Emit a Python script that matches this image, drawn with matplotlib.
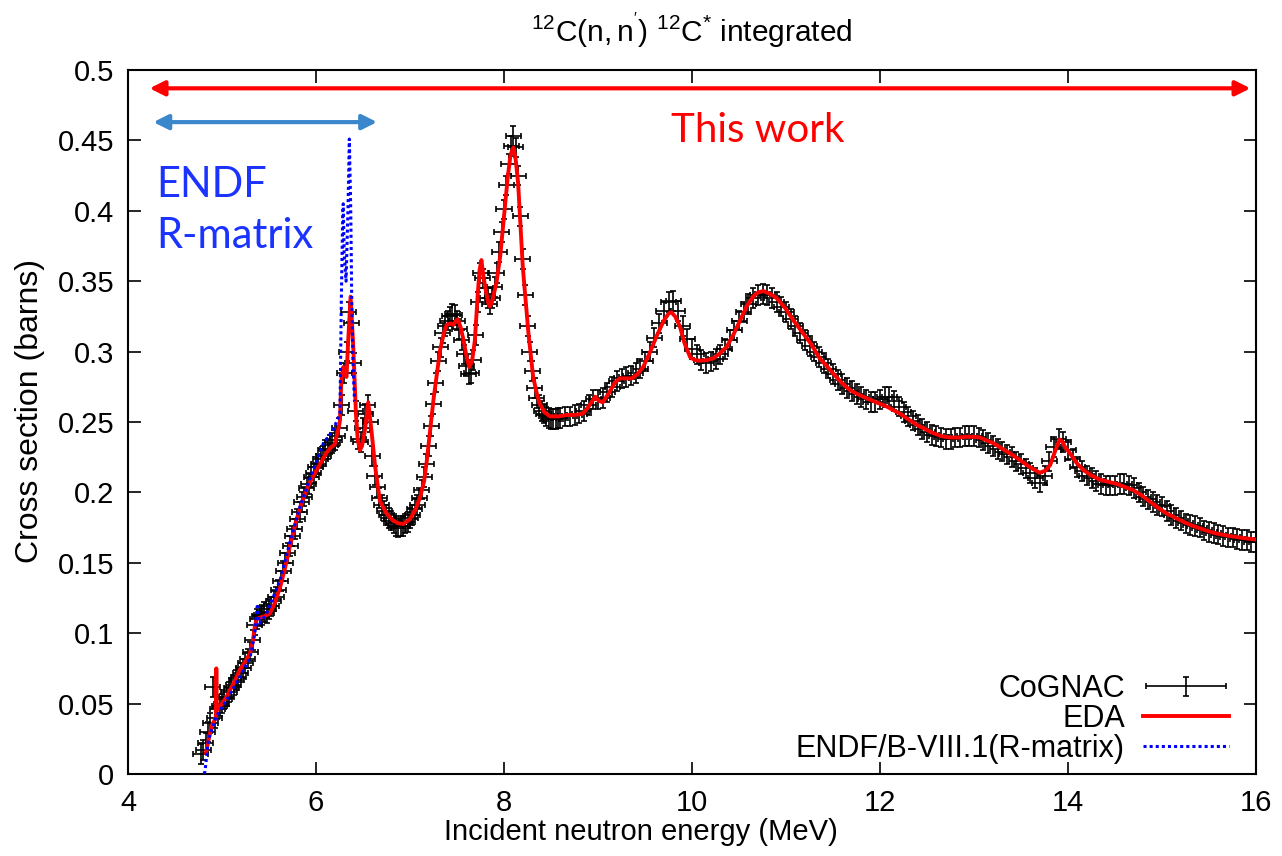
import numpy as np
import matplotlib
matplotlib.use("Agg")
import matplotlib.pyplot as plt
from matplotlib.ticker import FuncFormatter, MultipleLocator
from matplotlib.container import ErrorbarContainer
from matplotlib.legend_handler import HandlerErrorbar

plt.rcParams['font.family'] = ['Liberation Sans', 'DejaVu Sans']
plt.rcParams['mathtext.fontset'] = 'custom'
plt.rcParams['mathtext.rm'] = 'Liberation Sans'
plt.rcParams['mathtext.it'] = 'Liberation Sans:italic'

# CoGNAC data (MeV, barns), fine grid below 8.6 MeV
cog_e_lo = [4.775, 4.800, 4.825, 4.850, 4.875, 4.900, 4.925, 4.950, 4.975, 5.000,
            5.025, 5.050, 5.075, 5.100, 5.125, 5.150, 5.175, 5.200, 5.225, 5.250,
            5.275, 5.300, 5.325, 5.350, 5.375, 5.400, 5.425, 5.450, 5.475, 5.500,
            5.525, 5.550, 5.575, 5.600, 5.625, 5.650, 5.675, 5.700, 5.725, 5.750,
            5.775, 5.800, 5.825, 5.850, 5.875, 5.900, 5.925, 5.950, 5.975, 6.000,
            6.025, 6.050, 6.075, 6.100, 6.125, 6.150, 6.175, 6.200, 6.225, 6.250,
            6.275, 6.300, 6.325, 6.350, 6.375, 6.400, 6.425, 6.450, 6.475, 6.500,
            6.525, 6.550, 6.575, 6.600, 6.625, 6.650, 6.675, 6.700, 6.725, 6.750,
            6.775, 6.800, 6.825, 6.850, 6.875, 6.900, 6.925, 6.950, 6.975, 7.000,
            7.025, 7.050, 7.075, 7.100, 7.125, 7.150, 7.175, 7.200, 7.225, 7.250,
            7.275, 7.300, 7.325, 7.350, 7.375, 7.400, 7.425, 7.450, 7.475, 7.500,
            7.525, 7.550, 7.575, 7.600, 7.625, 7.650, 7.675, 7.700, 7.725, 7.750,
            7.775, 7.800, 7.825, 7.850, 7.875, 7.900, 7.925, 7.950, 7.975, 8.000,
            8.025, 8.050, 8.075, 8.100, 8.125, 8.150, 8.175, 8.200, 8.225, 8.250,
            8.275, 8.300, 8.325, 8.350, 8.375, 8.400, 8.425, 8.450, 8.475, 8.500,
            8.525, 8.550, 8.575, 8.600]
cog_xs_lo = [0.014, 0.017, 0.022, 0.030, 0.036, 0.062, 0.040, 0.046, 0.048, 0.050,
             0.053, 0.055, 0.058, 0.061, 0.063, 0.067, 0.069, 0.072, 0.075, 0.079,
             0.082, 0.087, 0.095, 0.106, 0.110, 0.112, 0.113, 0.115, 0.114, 0.117,
             0.119, 0.123, 0.126, 0.131, 0.137, 0.144, 0.150, 0.157, 0.162, 0.169,
             0.174, 0.181, 0.186, 0.193, 0.197, 0.203, 0.206, 0.211, 0.214, 0.218,
             0.220, 0.224, 0.226, 0.230, 0.231, 0.234, 0.235, 0.237, 0.240, 0.246,
             0.262, 0.285, 0.300, 0.328, 0.320, 0.292, 0.258, 0.238, 0.236, 0.246,
             0.256, 0.262, 0.250, 0.226, 0.212, 0.204, 0.196, 0.191, 0.187, 0.184,
             0.182, 0.180, 0.178, 0.176, 0.175, 0.176, 0.176, 0.178, 0.179, 0.182,
             0.184, 0.188, 0.191, 0.196, 0.202, 0.211, 0.220, 0.233, 0.247, 0.263,
             0.278, 0.293, 0.303, 0.313, 0.318, 0.322, 0.325, 0.327, 0.326, 0.322,
             0.316, 0.308, 0.298, 0.290, 0.284, 0.285, 0.294, 0.312, 0.335, 0.356,
             0.352, 0.345, 0.338, 0.334, 0.338, 0.346, 0.356, 0.371, 0.385, 0.401,
             0.418, 0.433, 0.446, 0.453, 0.445, 0.425, 0.396, 0.366, 0.340, 0.318,
             0.300, 0.286, 0.274, 0.267, 0.262, 0.258, 0.256, 0.254, 0.253, 0.252,
             0.252, 0.252, 0.253, 0.253]
# coarser grid above 8.6 MeV
cog_e_hi = [8.65, 8.70, 8.75, 8.80, 8.85, 8.90, 8.95, 9.00, 9.05, 9.10, 9.15, 9.20, 9.25, 9.30,
            9.35, 9.40, 9.45, 9.50, 9.55, 9.60, 9.65, 9.70, 9.75, 9.80, 9.85, 9.90, 9.95, 10.00,
            10.05, 10.10, 10.15, 10.20, 10.25, 10.30, 10.35, 10.40, 10.45, 10.50, 10.55, 10.60,
            10.65, 10.70, 10.75, 10.80, 10.85, 10.90, 10.95, 11.00, 11.05, 11.10, 11.15, 11.20,
            11.25, 11.30, 11.35, 11.40, 11.45, 11.50, 11.55, 11.60, 11.65, 11.70, 11.75, 11.80,
            11.85, 11.90, 11.95, 12.00, 12.05, 12.10, 12.15, 12.20, 12.25, 12.30, 12.35, 12.40,
            12.45, 12.50, 12.55, 12.60, 12.65, 12.70, 12.75, 12.80, 12.85, 12.90, 12.95, 13.00,
            13.05, 13.10, 13.15, 13.20, 13.25, 13.30, 13.35, 13.40, 13.45, 13.50, 13.55, 13.60,
            13.65, 13.70, 13.75, 13.80, 13.85, 13.90, 13.95, 14.00, 14.05, 14.10, 14.15, 14.20,
            14.25, 14.30, 14.35, 14.40, 14.45, 14.50, 14.55, 14.60, 14.65, 14.70, 14.75, 14.80,
            14.85, 14.90, 14.95, 15.00, 15.05, 15.10, 15.15, 15.20, 15.25, 15.30, 15.35, 15.40,
            15.45, 15.50, 15.55, 15.60, 15.65, 15.70, 15.75, 15.80, 15.85, 15.90, 15.95, 16.00]
cog_xs_hi = [0.254, 0.254, 0.255, 0.256, 0.258, 0.262, 0.266, 0.266, 0.267, 0.271, 0.275, 0.279, 0.281, 0.282,
             0.283, 0.285, 0.288, 0.293, 0.300, 0.310, 0.320, 0.329, 0.335, 0.336, 0.329, 0.318, 0.309, 0.302,
             0.298, 0.294, 0.292, 0.293, 0.295, 0.298, 0.302, 0.308, 0.315, 0.322, 0.328, 0.334,
             0.338, 0.340, 0.341, 0.340, 0.338, 0.335, 0.332, 0.328, 0.323, 0.318, 0.313, 0.308,
             0.304, 0.300, 0.296, 0.292, 0.288, 0.284, 0.280, 0.277, 0.274, 0.272, 0.270, 0.268,
             0.266, 0.264, 0.264, 0.266, 0.268, 0.268, 0.265, 0.261, 0.257, 0.254, 0.251, 0.248,
             0.245, 0.243, 0.241, 0.240, 0.239, 0.238, 0.238, 0.239, 0.239, 0.240, 0.240, 0.240,
             0.239, 0.237, 0.235, 0.233, 0.231, 0.229, 0.227, 0.225, 0.222, 0.220, 0.217, 0.214,
             0.210, 0.207, 0.212, 0.222, 0.232, 0.238, 0.236, 0.230, 0.224, 0.218, 0.215, 0.212,
             0.210, 0.208, 0.206, 0.205, 0.205, 0.205, 0.206, 0.206, 0.205, 0.203, 0.200, 0.197,
             0.195, 0.193, 0.191, 0.190, 0.187, 0.184, 0.182, 0.180, 0.178, 0.177, 0.176, 0.175,
             0.173, 0.172, 0.171, 0.170, 0.169, 0.168, 0.168, 0.167, 0.166, 0.166, 0.165, 0.165]
cog_de = 0.08     # energy half-width (MeV)
cog_dxs = 0.007   # cross-section uncertainty (b)

# EDA fit
eda_e = [4.83, 4.86, 4.89, 4.935, 4.94, 4.945, 5.00, 5.05, 5.12, 5.19, 5.25, 5.30, 5.33, 5.35, 5.37,
         5.40, 5.45, 5.51, 5.56, 5.62, 5.67, 5.72, 5.79, 5.85, 5.90, 5.95, 6.01, 6.06, 6.11, 6.16,
         6.20, 6.22, 6.245, 6.255, 6.27, 6.29, 6.30, 6.325, 6.343, 6.368, 6.397, 6.425, 6.445, 6.468, 6.49,
         6.52, 6.556, 6.59, 6.63, 6.68, 6.75, 6.82, 6.88, 6.93, 7.00, 7.06, 7.11, 7.15, 7.18, 7.25,
         7.32, 7.36, 7.39, 7.43, 7.46, 7.49, 7.51, 7.54, 7.57, 7.60, 7.63, 7.66, 7.69, 7.72, 7.74,
         7.76, 7.78, 7.81, 7.835, 7.85, 7.875, 7.92, 7.96, 7.99, 8.04, 8.07, 8.10, 8.125, 8.15, 8.20,
         8.26, 8.31, 8.35, 8.38, 8.43, 8.49, 8.58, 8.67, 8.76, 8.84, 8.90, 8.97, 9.01, 9.05, 9.12,
         9.18, 9.23, 9.30, 9.36, 9.42, 9.48, 9.55, 9.62, 9.70, 9.75, 9.78, 9.82, 9.87, 9.92, 9.98,
         10.03, 10.09, 10.16, 10.23, 10.30, 10.37, 10.44, 10.51, 10.58, 10.65, 10.70, 10.76, 10.83, 10.90, 10.99,
         11.08, 11.17, 11.26, 11.36, 11.43, 11.50, 11.59, 11.68, 11.77, 11.86, 11.96, 12.07, 12.14, 12.21, 12.30,
         12.39, 12.48, 12.57, 12.65, 12.74, 12.83, 12.92, 13.00, 13.06, 13.13, 13.21, 13.30, 13.38, 13.47, 13.56,
         13.63, 13.70, 13.76, 13.81, 13.86, 13.91, 13.94, 13.97, 14.02, 14.09, 14.16, 14.25, 14.34, 14.43, 14.52,
         14.60, 14.69, 14.78, 14.87, 14.96, 15.05, 15.14, 15.23, 15.31, 15.40, 15.49, 15.58, 15.67, 15.76, 15.86,
         15.97, 16.00]
eda_xs = [0.015, 0.025, 0.034, 0.040, 0.075, 0.045, 0.050, 0.055, 0.064, 0.074, 0.080, 0.086, 0.095, 0.105, 0.110,
          0.111, 0.112, 0.114, 0.121, 0.133, 0.146, 0.161, 0.180, 0.193, 0.202, 0.209, 0.216, 0.222, 0.228, 0.232,
          0.234, 0.240, 0.247, 0.251, 0.280, 0.289, 0.284, 0.282, 0.308, 0.339, 0.303, 0.256, 0.237, 0.230, 0.233,
          0.244, 0.264, 0.244, 0.218, 0.194, 0.185, 0.180, 0.178, 0.1776, 0.181, 0.188, 0.197, 0.208, 0.223, 0.266,
          0.301, 0.313, 0.319, 0.320, 0.319, 0.322, 0.323, 0.317, 0.308, 0.297, 0.289, 0.293, 0.308, 0.340, 0.358,
          0.365, 0.354, 0.342, 0.334, 0.332, 0.336, 0.349, 0.368, 0.389, 0.424, 0.440, 0.445, 0.436, 0.420, 0.360,
          0.313, 0.282, 0.270, 0.263, 0.257, 0.254, 0.254, 0.255, 0.255, 0.256, 0.261, 0.268, 0.265, 0.264, 0.271,
          0.278, 0.281, 0.281, 0.281, 0.284, 0.289, 0.299, 0.3105, 0.322, 0.327, 0.328, 0.325, 0.318, 0.306, 0.296,
          0.294, 0.2935, 0.294, 0.2953, 0.299, 0.3035, 0.312, 0.322, 0.332, 0.339, 0.342, 0.343, 0.341, 0.338, 0.331,
          0.322, 0.314, 0.306, 0.295, 0.290, 0.2846, 0.278, 0.2727, 0.2695, 0.2668, 0.264, 0.261, 0.2585, 0.256, 0.252,
          0.248, 0.245, 0.242, 0.240, 0.239, 0.239, 0.2395, 0.2395, 0.239, 0.237, 0.2348, 0.231, 0.2278, 0.2238, 0.2195,
          0.2165, 0.214, 0.2155, 0.2195, 0.229, 0.2376, 0.236, 0.232, 0.2278, 0.221, 0.216, 0.212, 0.209, 0.2075, 0.206,
          0.204, 0.2017, 0.198, 0.1934, 0.189, 0.185, 0.182, 0.179, 0.1767, 0.1745, 0.1725, 0.1708, 0.1696, 0.1686, 0.1676,
          0.1667, 0.1665]

# ENDF/B-VIII.1 R-matrix
endf_e = [4.81, 4.82, 4.855, 4.94, 5.05, 5.19, 5.30, 5.35, 5.375, 5.40, 5.475, 5.62, 5.72, 5.83, 5.97,
          6.08, 6.18, 6.255, 6.27, 6.285, 6.29, 6.30, 6.32, 6.34, 6.355, 6.37, 6.38, 6.395, 6.41]
endf_xs = [0.0, 0.002, 0.024, 0.041, 0.0526, 0.069, 0.083, 0.100, 0.119, 0.107, 0.114, 0.138, 0.164, 0.190, 0.216,
           0.235, 0.244, 0.256, 0.337, 0.400, 0.405, 0.370, 0.350, 0.400, 0.451, 0.400, 0.339, 0.289, 0.265]

cog_e = cog_e_lo + cog_e_hi
cog_xs = cog_xs_lo + cog_xs_hi

fig = plt.figure(figsize=(12.82, 8.56), dpi=100)
ax = fig.add_axes([0.0998, 0.0958, 0.8800, 0.8224])

h_cog = ax.errorbar(cog_e, cog_xs, xerr=cog_de, yerr=cog_dxs, fmt='none', ecolor='black',
                    elinewidth=1.2, capsize=2.5, capthick=1.2, label='CoGNAC', zorder=2)
h_eda, = ax.plot(eda_e, eda_xs, color='#ff0000', lw=2.8, label='EDA', zorder=3)
h_endf, = ax.plot(endf_e, endf_xs, color='#0000ff', lw=2.2, ls=(0, (1, 1)),
                  label='ENDF/B-VIII.1(R-matrix)', zorder=4)

ax.set_xlim(4, 16)
ax.set_ylim(0, 0.5)
ax.xaxis.set_major_locator(MultipleLocator(2))
ax.yaxis.set_major_locator(MultipleLocator(0.05))
ax.yaxis.set_major_formatter(FuncFormatter(lambda v, p: '%g' % round(v, 3)))
ax.tick_params(direction='in', length=9, width=1.2, labelsize=21, top=True, right=True)
ax.tick_params(axis='x', pad=11)
ax.tick_params(axis='y', pad=10)
for s in ax.spines.values():
    s.set_linewidth(1.5)

ax.set_xlabel('Incident neutron energy (MeV)', fontsize=21)
ax.xaxis.set_label_coords(0.4548, -0.063)
ax.set_ylabel('Cross section (barns)', fontsize=23)
ax.yaxis.set_label_coords(-0.0736, 0.516)
ax.set_title(r"$\mathrm{^{12}C(n,n^{'})\ ^{12}C^{*}}$ integrated", fontsize=21.5, pad=20)

# range arrows and notes
ax.annotate('', xy=(15.94, 0.487), xytext=(4.23, 0.487),
            arrowprops=dict(arrowstyle='<|-|>', color='#ff0000', lw=3, mutation_scale=22, shrinkA=0, shrinkB=0))
ax.annotate('', xy=(6.65, 0.463), xytext=(4.27, 0.463),
            arrowprops=dict(arrowstyle='<|-|>', color='#3a87cc', lw=3, mutation_scale=22, shrinkA=0, shrinkB=0))
ax.text(10.70, 0.457, 'This work', color='#ff0000', fontsize=29, family='Lato', ha='center', va='center')
ax.text(4.30, 0.418, 'ENDF', color='#1a33ff', fontsize=30, family='Lato', ha='left', va='center')
ax.text(4.30, 0.382, 'R-matrix', color='#1a33ff', fontsize=30, family='Lato', ha='left', va='center')

ax.legend([h_cog, h_eda, h_endf], ['CoGNAC', 'EDA', 'ENDF/B-VIII.1(R-matrix)'],
          handler_map={ErrorbarContainer: HandlerErrorbar(xerr_size=1.3, yerr_size=0.3)},
          loc='lower right', bbox_to_anchor=(0.992, -0.012), frameon=False, markerfirst=False,
          fontsize=22, handlelength=2.8, handletextpad=0.6, labelspacing=0.0, borderaxespad=0.2)

fig.savefig('out.png', dpi=100)
